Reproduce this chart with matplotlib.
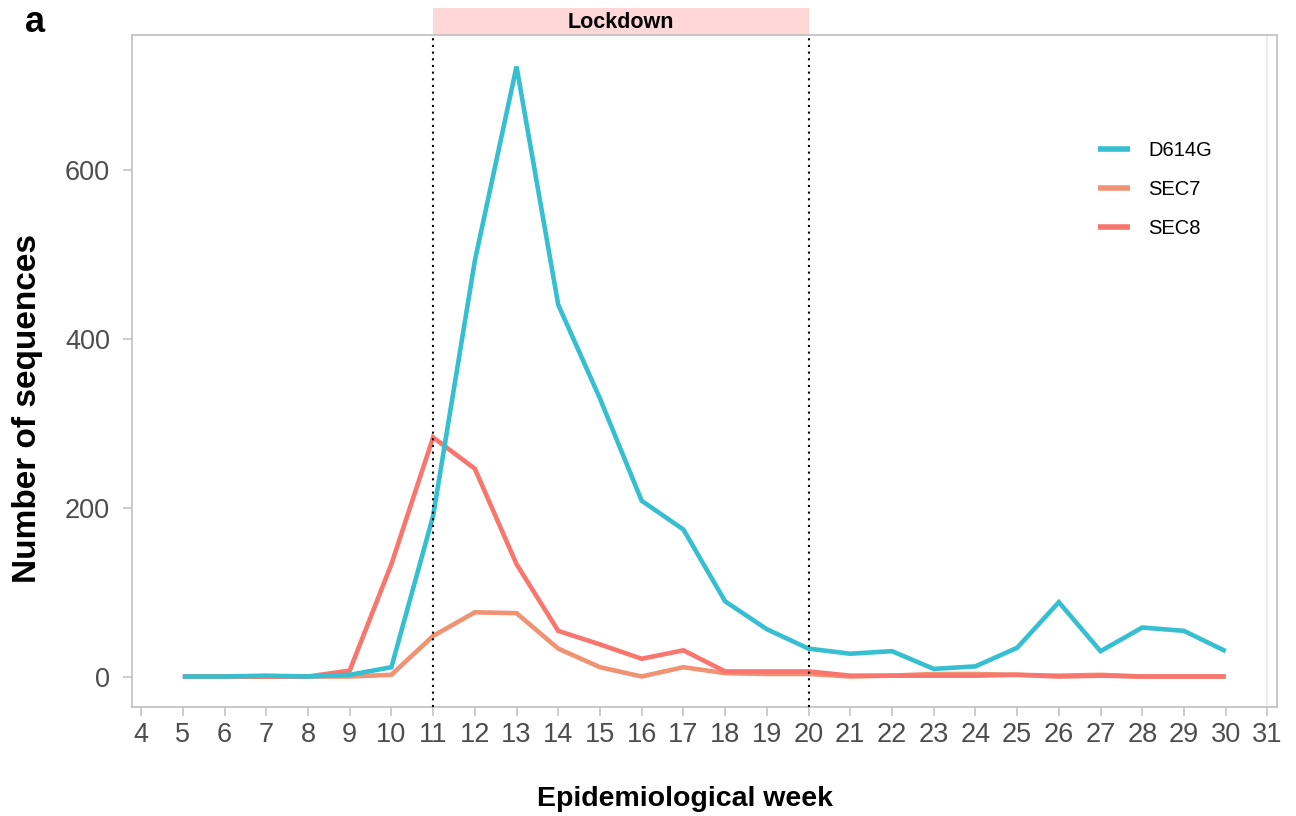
import matplotlib
matplotlib.use("Agg")
import matplotlib.pyplot as plt
from matplotlib.patches import Rectangle

plt.rcParams['font.family'] = ['Liberation Sans', 'DejaVu Sans']

weeks = list(range(5, 31))
d614g = [0, 0, 1, 0, 2, 11, 190, 492, 722, 440, 329, 208, 174, 89, 56, 33,
         27, 30, 9, 12, 34, 88, 30, 58, 54, 30]
sec7 = [0, 0, 0, 0, 0, 2, 48, 76, 75, 33, 11, 0, 11, 4, 3, 3,
        0, 1, 3, 3, 2, 1, 2, 0, 0, 0]
sec8 = [0, 0, 0, 0, 7, 133, 283, 246, 133, 54, 38, 21, 31, 6, 6, 6,
        1, 1, 1, 1, 2, 0, 1, 0, 0, 0]

series_names = ["D614G", "SEC7", "SEC8"]
series_colors = {"D614G": "#35BFD1", "SEC7": "#F09373", "SEC8": "#F8766D"}
lockdown_start, lockdown_end = 11, 20
x_ticks = list(range(4, 32))
y_ticks = [0, 200, 400, 600]

fig = plt.figure(figsize=(12.96, 8.16), dpi=100)
ax = fig.add_axes([131.5 / 1296, 1 - 706.5 / 816, (1277 - 131.5) / 1296, (706.5 - 35.3) / 816])

ax.set_xlim(3.77, 31.23)
ax.set_ylim(-35.5, 759)

# faint reference line at the last week
ax.axvline(31, color="#e8e8e8", lw=1.2, zorder=0)

values = {"D614G": d614g, "SEC7": sec7, "SEC8": sec8}
zorders = {"SEC7": 2, "SEC8": 3, "D614G": 4}
handles = {}
for name in series_names:
    h, = ax.plot(weeks, values[name], color=series_colors[name], lw=3.3,
                 solid_capstyle="butt", solid_joinstyle="miter", zorder=zorders[name], label=name)
    handles[name] = h

for w in (lockdown_start, lockdown_end):
    ax.axvline(w, color="black", lw=1.5, ls=(0, (1, 2.2)), zorder=5)

# lockdown strip above the panel
strip = Rectangle((lockdown_start, 1.0), lockdown_end - lockdown_start, 27 / 671,
                  transform=ax.get_xaxis_transform(), facecolor="#FFD7D7",
                  edgecolor="none", clip_on=False, zorder=1)
ax.add_patch(strip)
ax.text((lockdown_start + lockdown_end) / 2, 1 + 12.5 / 671, "Lockdown",
        transform=ax.get_xaxis_transform(), ha="center", va="center",
        fontsize=15.5, fontweight="bold", color="black")

for s in ax.spines.values():
    s.set_color("#c4c4c4")
    s.set_linewidth(1.3)

ax.set_xticks(x_ticks)
ax.set_xticklabels([str(t) for t in x_ticks])
ax.set_yticks(y_ticks)
ax.set_yticklabels([str(t) for t in y_ticks])
ax.tick_params(axis="both", colors="#c4c4c4", length=6.5, width=1.2,
               labelcolor="#4D4D4D", labelsize=19.5)
ax.tick_params(axis="x", pad=5)
ax.tick_params(axis="y", pad=9)

ax.set_xlabel("Epidemiological week", fontsize=20.5, fontweight="bold")
ax.xaxis.set_label_coords(0.483, -0.118)
ax.set_ylabel("Number of sequences", fontsize=24, fontweight="bold")
ax.yaxis.set_label_coords(-0.077, 0.444)

leg = ax.legend(handles=[handles[n] for n in series_names], loc="upper left",
                bbox_to_anchor=(0.828, 0.87), frameon=False, fontsize=14.5,
                handlelength=1.6, handletextpad=0.9, labelspacing=1.0)
for line in leg.get_lines():
    line.set_linewidth(4)

fig.text(25 / 1296, 1 - 22 / 816, "a", fontsize=26, fontweight="bold", va="center", ha="left")

fig.savefig("out.png", dpi=100)
